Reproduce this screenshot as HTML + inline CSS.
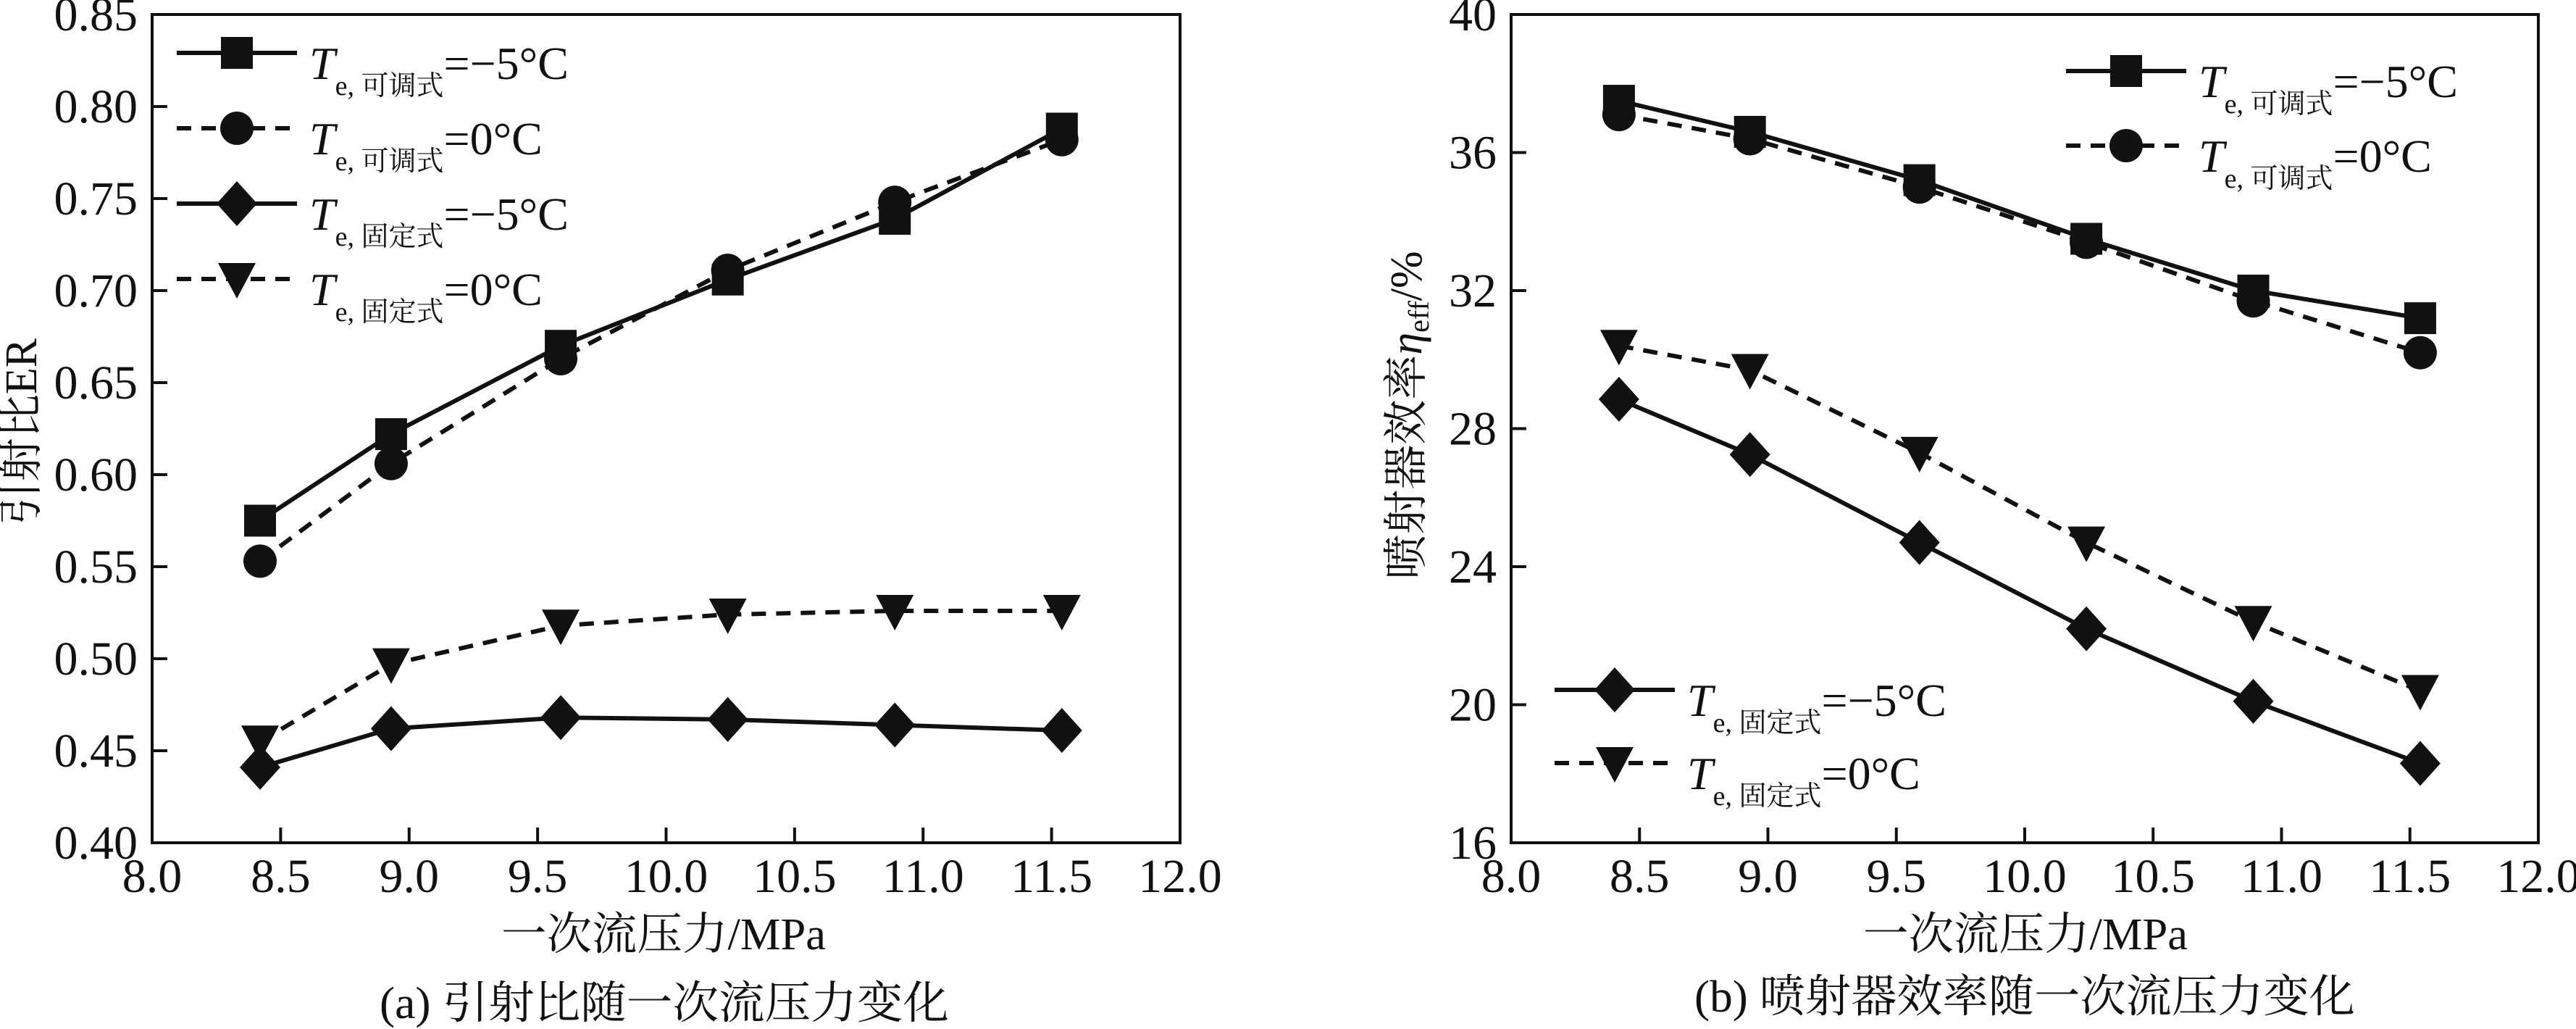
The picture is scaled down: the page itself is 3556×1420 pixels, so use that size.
<!DOCTYPE html>
<html><head><meta charset="utf-8">
<style>
html,body{margin:0;padding:0;background:#fff;}
svg{display:block;}
text{font-family:"Liberation Serif","Noto Serif CJK SC","Noto Sans CJK SC",serif;fill:#111;}
</style></head>
<body>
<svg id="fig" width="3556" height="1420" viewBox="0 0 3556 1420" xmlns="http://www.w3.org/2000/svg"></svg>
<script>
// ---------- data ----------
const pressures = [8.42, 8.93, 9.59, 10.24, 10.89, 11.54];
const erAdjM5 = [0.575, 0.622, 0.670, 0.706, 0.739, 0.788];
const erAdj0 = [0.553, 0.606, 0.663, 0.711, 0.748, 0.782];
const erFixM5 = [0.441, 0.462, 0.468, 0.467, 0.464, 0.461];
const erFix0 = [0.455, 0.497, 0.518, 0.524, 0.526, 0.526];
const effAdjM5 = [37.5, 36.6, 35.2, 33.5, 32.0, 31.2];
const effAdj0 = [37.1, 36.4, 35.0, 33.4, 31.7, 30.2];
const effFixM5 = [28.85, 27.25, 24.7, 22.2, 20.1, 18.3];
const effFix0 = [30.4, 29.7, 27.3, 24.7, 22.4, 20.4];
const xTicks = [8.0, 8.5, 9.0, 9.5, 10.0, 10.5, 11.0, 11.5, 12.0];
const xTickLabels = ["8.0","8.5","9.0","9.5","10.0","10.5","11.0","11.5","12.0"];
const erTicks = [0.40,0.45,0.50,0.55,0.60,0.65,0.70,0.75,0.80,0.85];
const erTickLabels = ["0.40","0.45","0.50","0.55","0.60","0.65","0.70","0.75","0.80","0.85"];
const effTicks = [16,20,24,28,32,36,40];
const effTickLabels = ["16","20","24","28","32","36","40"];

const NS = "http://www.w3.org/2000/svg";
const svg = document.getElementById('fig');
function mk(tag, attrs, parent){
  const e = document.createElementNS(NS, tag);
  for (const k in attrs) e.setAttribute(k, attrs[k]);
  (parent||svg).appendChild(e);
  return e;
}

function marker(g, type, cx, cy){
  let e;
  if (type==='square') e = mk('rect',{x:cx-22,y:cy-22,width:44,height:44,fill:'#111'},g);
  else if (type==='circle') e = mk('circle',{cx:cx,cy:cy,r:23,fill:'#111'},g);
  else if (type==='diamond') e = mk('polygon',{points:`${cx},${cy-31} ${cx+28},${cy} ${cx},${cy+31} ${cx-28},${cy}`,fill:'#111'},g);
  else e = mk('polygon',{points:`${cx-26},${cy-22} ${cx+26},${cy-22} ${cx},${cy+27}`,fill:'#111'},g);
  return e;
}

function legendLabel(g, x, y, sub, val){
  const t = mk('text',{x:x,y:y,'font-size':64},g);
  const a = document.createElementNS(NS,'tspan'); a.setAttribute('font-style','italic'); a.textContent='T'; t.appendChild(a);
  const b = document.createElementNS(NS,'tspan'); b.setAttribute('font-size','38'); b.setAttribute('dy','22'); b.textContent='e, '+sub; t.appendChild(b);
  const c = document.createElementNS(NS,'tspan'); c.setAttribute('dy','-22'); c.textContent=val; t.appendChild(c);
}

function chart(o){
  const g = mk('g',{});
  
  
  const X = v => o.x0 + (v-8)/(4)*(o.x1-o.x0);
  const Y = v => o.y1 - (v-o.ymin)/(o.ymax-o.ymin)*(o.y1-o.y0);
  const fr = mk('rect',{x:o.x0,y:o.y0,width:o.x1-o.x0,height:o.y1-o.y0,fill:'none',stroke:'#111','stroke-width':4},g);
  
  
  xTicks.forEach((v,i)=>{
    const px = X(v);
    if (i>0 && i<xTicks.length-1) mk('line',{x1:px,y1:o.y1,x2:px,y2:o.y1-21,stroke:'#111','stroke-width':4},g);
    const t = mk('text',{x:px,y:o.y1+68,'font-size':66,'text-anchor':'middle'},g);
    
    
    t.textContent = xTickLabels[i];
  });
  o.yTicks.forEach((v,i)=>{
    const py = Y(v);
    if (i>0 && i<o.yTicks.length-1) mk('line',{x1:o.x0,y1:py,x2:o.x0+21,y2:py,stroke:'#111','stroke-width':4},g);
    const t = mk('text',{x:o.x0-20,y:py+22,'font-size':66,'text-anchor':'end'},g);
    
    
    t.textContent = o.yLabels[i];
  });
  o.series.forEach(s=>{
    const sg = mk('g',{},g);
    
    
    const pts = pressures.map((p,i)=>X(p)+','+Y(s.vals[i])).join(' ');
    const pl = mk('polyline',{points:pts,fill:'none',stroke:'#111','stroke-width':6,'stroke-dasharray':s.dash?'20 14':'none'},sg);
    
    
    pressures.forEach((p,i)=>{
      const m = marker(sg, s.m, X(p), Y(s.vals[i]));
      
      
    });
  });
  o.legend.forEach(l=>{
    const lg = mk('g',{},g);
    
    
    mk('line',{x1:l.x,y1:l.y,x2:l.x+166,y2:l.y,stroke:'#111','stroke-width':6,'stroke-dasharray':l.dash?'20 14':'none'},lg);
    marker(lg, l.m, l.x+83, l.y);
    legendLabel(lg, l.x+183, l.y+36, l.sub, l.val);
  });
  return {X,Y};
}

chart({name:'chart-ejection-ratio',x0:210,x1:1629,y0:20,y1:1163,ymin:0.40,ymax:0.85,
  yTicks:erTicks,yLabels:erTickLabels,
  series:[
    {name:'series-adjustable-minus5',vals:erAdjM5,m:'square',dash:false},
    {name:'series-adjustable-0',vals:erAdj0,m:'circle',dash:true},
    {name:'series-fixed-minus5',vals:erFixM5,m:'diamond',dash:false},
    {name:'series-fixed-0',vals:erFix0,m:'triangle',dash:true}],
  legend:[
    {x:244,y:73,m:'square',dash:false,sub:'可调式',val:'=−5°C'},
    {x:244,y:177,m:'circle',dash:true,sub:'可调式',val:'=0°C'},
    {x:244,y:281,m:'diamond',dash:false,sub:'固定式',val:'=−5°C'},
    {x:244,y:385,m:'triangle',dash:true,sub:'固定式',val:'=0°C'}]
});
chart({name:'chart-ejector-efficiency',x0:2086,x1:3504,y0:20,y1:1163,ymin:16,ymax:40,
  yTicks:effTicks,yLabels:effTickLabels,
  series:[
    {name:'series-adjustable-minus5',vals:effAdjM5,m:'square',dash:false},
    {name:'series-adjustable-0',vals:effAdj0,m:'circle',dash:true},
    {name:'series-fixed-minus5',vals:effFixM5,m:'diamond',dash:false},
    {name:'series-fixed-0',vals:effFix0,m:'triangle',dash:true}],
  legend:[
    {x:2852,y:98,m:'square',dash:false,sub:'可调式',val:'=−5°C'},
    {x:2852,y:201,m:'circle',dash:true,sub:'可调式',val:'=0°C'},
    {x:2146,y:952,m:'diamond',dash:false,sub:'固定式',val:'=−5°C'},
    {x:2146,y:1053,m:'triangle',dash:true,sub:'固定式',val:'=0°C'}]
});
</script>
<svg style="position:absolute;left:0;top:0" width="3556" height="1420" viewBox="0 0 3556 1420" xmlns="http://www.w3.org/2000/svg">
  <text x="916" y="1310" font-size="62" text-anchor="middle" textLength="448" lengthAdjust="spacingAndGlyphs" style="font-family:'Liberation Serif','Noto Serif CJK SC',serif">一次流压力/MPa</text>
  <text x="2796" y="1310" font-size="62" text-anchor="middle" textLength="448" lengthAdjust="spacingAndGlyphs" style="font-family:'Liberation Serif','Noto Serif CJK SC',serif">一次流压力/MPa</text>
  <text transform="translate(50,596) rotate(-90)" font-size="62" text-anchor="middle" textLength="258" lengthAdjust="spacingAndGlyphs" style="font-family:'Liberation Serif','Noto Serif CJK SC',serif">引射比ER</text>
  <text transform="translate(1962,573) rotate(-90)" font-size="62" text-anchor="middle" style="font-family:'Liberation Serif','Noto Serif CJK SC',serif">喷射器效率<tspan font-style="italic">η</tspan><tspan font-size="40" dy="10">eff</tspan><tspan dy="-10">/%</tspan></text>
  <text x="917" y="1405" font-size="62" text-anchor="middle" textLength="786" lengthAdjust="spacingAndGlyphs" style="font-family:'Liberation Serif','Noto Serif CJK SC',serif">(a)  引射比随一次流压力变化</text>
  <text x="2795" y="1396" font-size="62" text-anchor="middle" textLength="912" lengthAdjust="spacingAndGlyphs" style="font-family:'Liberation Serif','Noto Serif CJK SC',serif">(b)  喷射器效率随一次流压力变化</text>
</svg>
</body></html>
